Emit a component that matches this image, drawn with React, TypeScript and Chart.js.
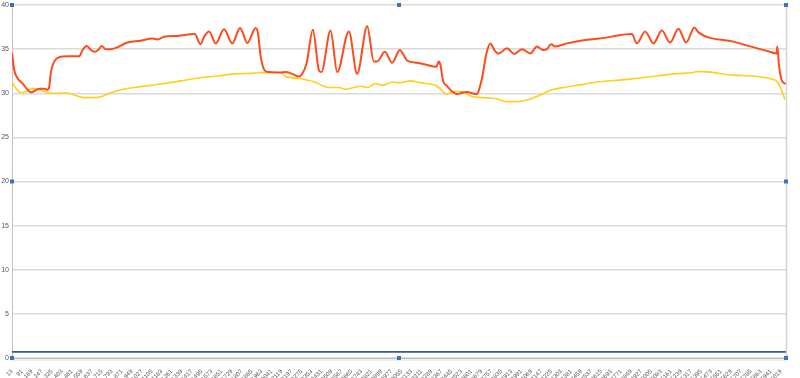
import React, { useEffect, useRef } from "react";
import { Chart, registerables } from "chart.js";

Chart.register(...registerables);

// x-axis tick labels (every 78 units)
const xLabels: number[] = [];
for (let v = 13; v <= 6019; v += 78) xLabels.push(v);

const yTicks = [0, 5, 10, 15, 20, 25, 30, 35, 40];

const redX = [13, 31, 57, 96, 135, 161, 187, 226, 265, 291, 304, 317, 343, 382, 447, 538, 564, 598, 629, 660, 686, 713, 746, 785, 850, 902, 1019, 1110, 1149, 1201, 1305, 1440, 1485, 1513, 1552, 1604, 1669, 1734, 1794, 1851, 1916, 1934, 1955, 1986, 2020, 2111, 2150, 2202, 2254, 2280, 2314, 2363, 2410, 2429, 2501, 2553, 2644, 2709, 2787, 2839, 2865, 2925, 2982, 3042, 3073, 3099, 3177, 3255, 3328, 3346, 3359, 3380, 3411, 3450, 3489, 3528, 3567, 3606, 3640, 3684, 3718, 3749, 3780, 3814, 3879, 3936, 3996, 4061, 4113, 4160, 4191, 4223, 4256, 4347, 4477, 4602, 4854, 4893, 4958, 5023, 5088, 5153, 5218, 5278, 5343, 5374, 5647, 5855, 5933, 5985, 5990, 6003, 6024, 6056];
const redY = [34.6, 32.6, 31.7, 31.1, 30.4, 30.1, 30.25, 30.5, 30.5, 30.4, 30.75, 32.4, 33.6, 34.1, 34.2, 34.2, 34.9, 35.35, 34.9, 34.7, 34.9, 35.35, 35.0, 35.0, 35.3, 35.7, 35.95, 36.2, 36.1, 36.4, 36.5, 36.7, 35.55, 36.4, 37.0, 35.65, 37.25, 35.65, 37.4, 35.7, 37.4, 36.8, 34.2, 32.6, 32.4, 32.35, 32.4, 32.2, 31.9, 32.2, 33.4, 37.2, 32.6, 32.4, 37.1, 32.4, 37.0, 32.2, 37.6, 33.6, 33.6, 34.7, 33.45, 34.9, 34.3, 33.7, 33.45, 33.2, 33.0, 33.6, 33.2, 31.4, 30.8, 30.2, 29.9, 30.05, 30.15, 30.0, 29.9, 31.7, 34.5, 35.65, 34.9, 34.5, 35.1, 34.45, 35.0, 34.5, 35.3, 34.9, 35.0, 35.55, 35.3, 35.65, 36.0, 36.2, 36.7, 35.65, 37.0, 35.65, 37.1, 35.75, 37.3, 35.75, 37.45, 36.9, 35.85, 35.0, 34.7, 34.5, 35.3, 33.2, 31.5, 31.05];

const yellowX = [13, 44, 83, 122, 174, 213, 265, 317, 382, 434, 499, 577, 629, 707, 785, 902, 1019, 1175, 1331, 1482, 1617, 1747, 1877, 2007, 2111, 2150, 2241, 2371, 2488, 2566, 2618, 2683, 2735, 2787, 2852, 2904, 2982, 3042, 3125, 3203, 3307, 3346, 3411, 3463, 3528, 3593, 3697, 3788, 3879, 3957, 4061, 4139, 4217, 4321, 4451, 4602, 4841, 5049, 5179, 5335, 5361, 5413, 5647, 5972, 6011, 6050];
const yellowY = [31.3, 30.55, 30.05, 30.2, 30.55, 30.45, 30.2, 30.0, 30.0, 30.05, 29.8, 29.5, 29.5, 29.6, 30.05, 30.5, 30.75, 31.05, 31.4, 31.75, 31.95, 32.2, 32.25, 32.35, 32.35, 31.9, 31.7, 31.3, 30.65, 30.65, 30.45, 30.65, 30.8, 30.65, 31.1, 30.9, 31.25, 31.2, 31.4, 31.2, 30.95, 30.65, 29.9, 30.2, 30.2, 29.7, 29.5, 29.4, 29.05, 29.05, 29.35, 29.8, 30.35, 30.65, 30.95, 31.3, 31.6, 31.95, 32.2, 32.35, 32.45, 32.45, 32.05, 31.5, 30.75, 29.3];

const blueX = [13, 6058];
const blueY = [0.7, 0.7];

const X_MIN = 13;
const X_MAX = 6058;

const zip = (xs: number[], ys: number[]) => xs.map((x, i) => ({ x, y: ys[i] }));

const decorPlugin = {
  id: "decor",
  afterDraw(chart: any) {
    const { ctx, chartArea } = chart;
    const { left, right, top, bottom } = chartArea;
    ctx.save();
    // right border
    ctx.strokeStyle = "#d4d4d4";
    ctx.lineWidth = 1.5;
    ctx.beginPath();
    ctx.moveTo(right + 0.5, top);
    ctx.lineTo(right + 0.5, bottom);
    ctx.stroke();
    // minor ticks along bottom axis
    ctx.strokeStyle = "#bdbdbd";
    ctx.lineWidth = 1;
    ctx.setLineDash([1, 1]);
    ctx.beginPath();
    ctx.moveTo(left, bottom + 2);
    ctx.lineTo(right, bottom + 2);
    ctx.stroke();
    ctx.setLineDash([]);
    // selection handles
    ctx.fillStyle = "#3d73b8";
    const cx = (left + right) / 2;
    const cy = (top + bottom) / 2;
    const pts = [
      [left, top], [cx, top], [right, top],
      [left, cy], [right, cy],
      [left, bottom], [cx, bottom], [right, bottom],
    ];
    for (const [px, py] of pts) ctx.fillRect(px - 2, py - 2, 4, 4);
    ctx.restore();
  },
};

export default function App() {
  const ref = useRef<HTMLCanvasElement>(null);
  useEffect(() => {
    document.body.style.margin = "0";
    const chart = new Chart(ref.current!, {
      type: "line",
      data: {
        datasets: [
          {
            label: "Series 1",
            data: zip(blueX, blueY),
            borderColor: "#2b5e95",
            borderWidth: 1.8,
            pointRadius: 0,
          },
          {
            label: "Series 2",
            data: zip(redX, redY),
            borderColor: "#ff4a1a",
            borderWidth: 2,
            pointRadius: 0,
            cubicInterpolationMode: "monotone",
          },
          {
            label: "Series 3",
            data: zip(yellowX, yellowY),
            borderColor: "#ffcf1a",
            borderWidth: 1.6,
            pointRadius: 0,
            cubicInterpolationMode: "monotone",
          },
        ],
      },
      options: {
        animation: false,
        responsive: false,
        maintainAspectRatio: false,
        layout: { padding: { top: 5, right: 14, left: 0, bottom: 0 } },
        plugins: { legend: { display: false }, tooltip: { enabled: false } },
        scales: {
          x: {
            type: "linear",
            min: X_MIN,
            max: X_MAX,
            afterBuildTicks: (scale: any) => {
              scale.ticks = xLabels.map((v) => ({ value: v }));
            },
            afterFit: (scale: any) => {
              scale.height = 20;
            },
            ticks: {
              autoSkip: false,
              minRotation: 45,
              maxRotation: 45,
              padding: 2,
              font: { size: 6, family: "Liberation Sans" },
              color: "#555",
              callback: (v: any) => String(v),
            },
            grid: { display: false, drawOnChartArea: false },
            border: { display: true, color: "#bfbfbf", width: 1 },
          },
          y: {
            min: 0,
            max: 40,
            afterBuildTicks: (scale: any) => {
              scale.ticks = yTicks.map((v) => ({ value: v }));
            },
            afterFit: (scale: any) => {
              scale.width = 12;
              scale.paddingTop = 0;
              scale.paddingBottom = 0;
            },
            ticks: {
              padding: 3,
              font: { size: 7, family: "Liberation Sans" },
              color: "#555",
            },
            grid: { color: "#dadada", lineWidth: 1.5, drawTicks: false },
            border: { display: true, color: "#c4c4c4", width: 1 },
          },
        },
      },
      plugins: [decorPlugin],
    });
    return () => chart.destroy();
  }, []);
  return (
    <div style={{ width: 800, height: 378 }}>
      <canvas ref={ref} width={800} height={378} style={{ display: "block" }} />
    </div>
  );
}
